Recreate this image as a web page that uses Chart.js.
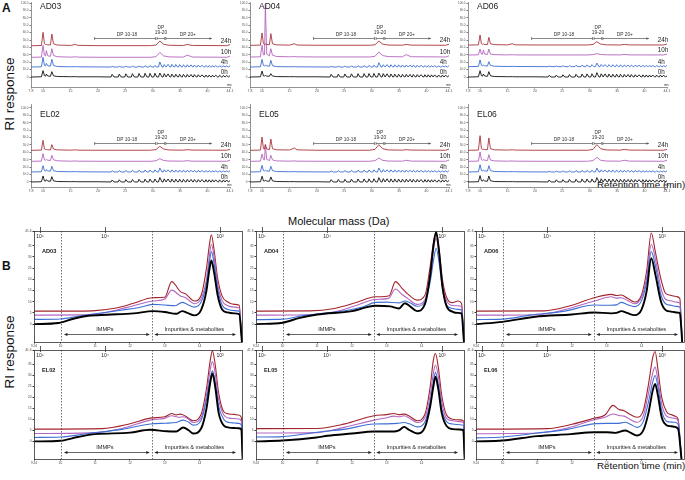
<!DOCTYPE html>
<html>
<head>
<meta charset="utf-8">
<script src="https://cdn.jsdelivr.net/npm/chart.js@4.4.0/dist/chart.umd.min.js"></script>
<style>
  body { margin: 0; width: 685px; height: 480px; position: relative; overflow: hidden; background: #fff;
         font-family: "Liberation Sans", Arial, sans-serif; color: #111; }
  canvas { position: absolute; }
  .lbl { position: absolute; white-space: nowrap; }
  .rot { transform: translate(-50%, -50%) rotate(-90deg); }
</style>
</head>
<body>
<div class="lbl" style="left:2px;top:1px;font-size:12px;font-weight:bold">A</div>
<div class="lbl" style="left:2px;top:259px;font-size:12px;font-weight:bold">B</div>
<div class="lbl rot" style="left:9px;top:94px;font-size:13.5px">RI response</div>
<div class="lbl rot" style="left:9px;top:352px;font-size:13.5px">RI response</div>
<div class="lbl" style="left:597px;top:179px;font-size:9.8px">Retention time (min)</div>
<div class="lbl" style="left:597px;top:460px;font-size:9.8px">Retention time (min)</div>
<div class="lbl" style="left:288px;top:215px;font-size:11px">Molecular mass (Da)</div>
<script>
// ---------- panel A: chromatograms ----------
const hoursA = ["24h", "10h", "4h", "0h"];
const tickLabelsA = [7.8, 10, 15, 20, 25, 30, 35, 40, 44.1];
const yTicksA = [0, 10, 20, 30, 40, 50, 60, 70, 80, 90, 100];
const earlyTimes = [7.8, 9.7, 10.0, 10.25, 10.45, 10.6, 10.85, 11.35, 11.6, 11.9, 12.6, 15.0, 15.9, 16.4, 20.0];
const lateTimes = [29.6, 30.6, 31.3, 32.0, 33.0, 35.6, 36.3, 37.2, 43.5, 44.1];
// DP ladder: peak apex, start of rise, end of tail
const ladderPeaks = [22.6, 23.9, 25.1, 26.3, 27.5, 28.6, 29.5, 30.4, 31.3, 32.1, 32.8, 33.5, 34.2, 34.9,
  35.6, 36.3, 37.0, 37.6, 38.3, 39.0, 39.7, 40.3, 40.9, 41.5, 42.2, 42.9, 43.5];
const ladderRise = [22.4, 23.7, 24.9, 26.1, 27.3, 28.4, 29.3, 30.2, 31.05, 31.9, 32.6, 33.3, 34.0, 34.7,
  35.4, 36.1, 36.8, 37.4, 38.1, 38.8, 39.5, 40.1, 40.7, 41.3, 42.0, 42.7, 43.3];
const ladderFall = [22.95, 24.25, 25.45, 26.65, 27.85, 28.95, 29.85, 30.75, 31.7, 32.45, 33.15, 33.85, 34.55,
  35.25, 35.95, 36.65, 37.3, 37.95, 38.65, 39.35, 40.0, 40.6, 41.2, 41.85, 42.55, 43.2, 43.8];
const dpRanges = [[19.4, 30.5], [30.8, 32.2], [32.4, 40.8]];

const ad03Early = [
  [42.3, 42.6, 60.4, 45, 43.8, 44, 43.6, 43.3, 58, 45, 43.2, 42.7, 44, 42.8, 42.4],
  [26.6, 26.9, 42.8, 29.5, 28.5, 35.6, 28.6, 28, 38.3, 29, 27.4, 26.9, 27.3, 26.9, 26.7],
  [13.5, 13.8, 26.6, 15.8, 15, 18.5, 15.2, 14.6, 23.9, 15.5, 14.2, 13.8, 14, 13.8, 13.6],
  [0, 0.3, 8.6, 1.8, 1.2, 4, 1.3, 1, 7.2, 1.6, 0.7, 0.4, 0.5, 0.3, 0.3]
];
const ad03Late = [
  [42.4, 43.2, 48.6, 44.2, 42.9, 42.6, 44, 42.7, 42.4, 43.8],
  [26.7, 27.5, 33.3, 28.5, 27.2, 26.9, 29.7, 27, 26.7, 28.2]
];
const ad03Ladder = [
  [14.4, 14.5, 14.6, 14.8, 14.9, 15.1, 15.3, 15.6, 20.3, 16.8, 17.1, 17, 16.9, 16.8, 16.6, 16.5, 16.4, 16.2, 16, 15.9, 15.7, 15.6, 15.4, 15.3, 15.2, 15.1, 15],
  [3.6, 4, 4.3, 4.5, 4.8, 5, 5, 5, 5.4, 4.5, 4.2, 4, 3.8, 3.7, 3.6, 3.5, 3.4, 3.3, 3.1, 2.9, 2.7, 2.6, 2.5, 2.4, 2.3, 2.2, 2.1]
];
const ad03Base = [13.5, 0];
const ad03End = [15.2, 1.8];

const ad04Early = [
  [42.8, 43.1, 59.5, 45, 44, 44.5, 44, 43.6, 58.6, 45, 43.5, 43.1, 45, 43.2, 42.9],
  [27, 27.3, 42.8, 30, 30, 98.2, 31, 28.6, 38.3, 29.5, 27.8, 27.3, 27.6, 27.3, 27.1],
  [13.5, 13.8, 23.9, 15.5, 15, 15.8, 15, 14.6, 22.5, 15.3, 14.1, 13.8, 14, 13.8, 13.6],
  [0, 0.3, 8.1, 1.5, 1.2, 2.3, 1.2, 1, 4.5, 1.4, 0.6, 0.4, 0.5, 0.3, 0.3]
];
const ad04Late = [
  [42.9, 43.6, 48.6, 44.5, 43.2, 43, 44.1, 43.1, 42.9, 44.3],
  [27.1, 28, 33.8, 29, 27.6, 27.3, 30.2, 27.4, 27.1, 28.6]
];
const ad04Ladder = [
  [14.3, 14.5, 14.7, 15, 15.2, 15.4, 15.6, 16, 19.4, 16.6, 16.8, 16.6, 16.5, 16.4, 16.3, 16.2, 16.1, 16, 15.9, 15.8, 15.6, 15.5, 15.4, 15.3, 15.2, 15.1, 15],
  [3.6, 3.9, 4.1, 4.3, 4.5, 4.6, 4.7, 4.8, 5.4, 4.6, 4.3, 4.1, 3.9, 3.8, 3.7, 3.6, 3.5, 3.4, 3.3, 3.2, 3.1, 3, 2.9, 2.8, 2.7, 2.6, 2.5]
];
const ad04Base = [13.5, 0];
const ad04End = [15.3, 2];

const ad06Early = [
  [43.2, 43.5, 56.8, 45, 44.2, 44.5, 44, 43.8, 53.6, 45, 43.8, 43.4, 45, 43.5, 43.3],
  [29.7, 30, 37.8, 31, 30.8, 36.5, 31, 30.5, 37.8, 31, 30.2, 29.9, 30.2, 29.9, 29.8],
  [14, 14.3, 23, 15.8, 15.2, 16.2, 15.2, 14.8, 20.7, 15.6, 14.6, 14.2, 14.4, 14.2, 14.1],
  [0, 0.3, 8.6, 1.8, 1.2, 4, 1.3, 1, 7.2, 1.6, 0.7, 0.4, 0.5, 0.3, 0.3]
];
const ad06Late = [
  [43.3, 44, 47.7, 44.5, 43.5, 43.3, 44.1, 43.4, 43.3, 44.6],
  [29.8, 30.3, 31.5, 30.5, 30, 29.9, 30.6, 29.9, 29.8, 31]
];
const ad06Ladder = [
  [14.8, 15, 15.3, 15.5, 15.8, 16, 16.3, 16.7, 18.9, 16.9, 16.8, 16.7, 16.6, 16.5, 16.4, 16.3, 16.2, 16.1, 16, 15.9, 15.8, 15.7, 15.6, 15.5, 15.4, 15.3, 15.2],
  [2.3, 2.6, 3, 3.3, 3.6, 4, 4.2, 4.4, 5.9, 4.4, 4.2, 4, 3.9, 3.8, 3.7, 3.5, 3.4, 3.3, 3.1, 3, 2.9, 2.8, 2.7, 2.7, 2.6, 2.6, 2.5]
];
const ad06Base = [14, 0];
const ad06End = [15.8, 1.5];

const el02Early = [
  [42.8, 43.1, 56.3, 44.5, 43.8, 44, 43.6, 43.3, 50.5, 44.5, 43.4, 43, 43.4, 43, 42.9],
  [27.9, 28.2, 38.3, 30, 29.5, 30.2, 29.5, 29, 36, 30, 28.6, 28.1, 28.4, 28.1, 28],
  [13.5, 13.8, 22, 15.3, 14.8, 16.7, 15, 14.6, 21.2, 15.3, 14.1, 13.8, 14, 13.8, 13.6],
  [0, 0.3, 8.1, 1.5, 1.1, 3.2, 1.2, 1, 7.2, 1.5, 0.6, 0.4, 0.5, 0.3, 0.3]
];
const el02Late = [
  [42.9, 43.8, 48.2, 44.5, 43.2, 43, 43.7, 43.1, 42.9, 44.2],
  [28, 28.6, 31.5, 29, 28.3, 28.1, 28.8, 28.1, 28, 29.3]
];
const el02Ladder = [
  [15.2, 15.4, 15.6, 15.8, 16, 16.1, 16.2, 16.4, 18.9, 16.6, 16.4, 16.3, 16.2, 16.1, 16, 15.9, 15.8, 15.7, 15.6, 15.5, 15.4, 15.3, 15.3, 15.2, 15.1, 15.1, 15],
  [2.7, 3, 3.2, 3.4, 3.6, 3.8, 4, 4, 5.9, 4.2, 4, 3.9, 3.8, 3.7, 3.6, 3.5, 3.4, 3.3, 3.2, 3.2, 3.1, 3, 3, 2.9, 2.8, 2.7, 2.6]
];
const el02Base = [13.5, 0];
const el02End = [15.2, 1.8];

const el05Early = [
  [42.8, 43.1, 60.8, 45, 44.5, 50.5, 44.6, 43.8, 58.1, 45, 43.5, 43.2, 45.9, 43.4, 42.9],
  [27.9, 28.2, 37.8, 30.5, 30, 50.5, 30.5, 29, 36, 29.8, 28.5, 28.1, 28.5, 28.1, 28],
  [13.5, 13.8, 22.5, 15.3, 14.8, 15.8, 14.9, 14.6, 21.2, 15.3, 14.1, 13.8, 14, 13.8, 13.6],
  [0, 0.3, 7.7, 1.5, 1.1, 2.5, 1.2, 1, 6.8, 1.5, 0.6, 0.4, 0.5, 0.3, 0.3]
];
const el05Late = [
  [42.9, 44, 50.5, 45, 43.3, 43, 43.7, 43.1, 42.9, 44.4],
  [28, 28.8, 32.4, 29.2, 28.3, 28.1, 29.3, 28.2, 28, 29.5]
];
const el05Ladder = [
  [15, 15.2, 15.5, 15.7, 15.9, 16.1, 16.2, 16.4, 18.9, 16.7, 16.5, 16.4, 16.3, 16.2, 16.1, 16, 15.9, 15.8, 15.7, 15.6, 15.5, 15.4, 15.3, 15.2, 15.1, 15.1, 15],
  [3.2, 3.4, 3.6, 3.8, 4, 4.1, 4.2, 4.3, 5.9, 4.5, 4.3, 4.1, 4, 3.9, 3.8, 3.7, 3.6, 3.5, 3.4, 3.3, 3.2, 3.1, 3, 2.9, 2.9, 2.8, 2.7]
];
const el05Base = [13.5, 0];
const el05End = [15.5, 2.2];

const el06Early = [
  [42.8, 43.1, 62.6, 45, 44, 44.3, 43.9, 43.6, 59.5, 45, 43.5, 43.1, 43.5, 43.1, 42.9],
  [27.9, 28.2, 40.5, 30, 29.4, 30.2, 29.4, 29, 36.9, 29.6, 28.5, 28.1, 28.4, 28.1, 28],
  [13.5, 13.8, 23.4, 15.3, 14.8, 16.2, 14.9, 14.6, 22, 15.3, 14.1, 13.8, 14, 13.8, 13.6],
  [0, 0.3, 8.6, 1.6, 1.2, 3, 1.3, 1, 8.1, 1.6, 0.6, 0.4, 0.5, 0.3, 0.3]
];
const el06Late = [
  [42.9, 44, 50.5, 45, 43.3, 43, 44.1, 43.1, 42.9, 44.2],
  [28, 28.9, 33.3, 29.4, 28.3, 28.1, 29.3, 28.2, 28, 29.3]
];
const el06Ladder = [
  [14.6, 14.8, 15, 15.2, 15.4, 15.6, 15.8, 16, 18.9, 16.4, 16.2, 16.1, 16, 15.9, 15.8, 15.7, 15.6, 15.5, 15.4, 15.3, 15.2, 15.1, 15, 14.9, 14.9, 14.8, 14.8],
  [2.7, 3, 3.2, 3.5, 3.7, 3.9, 4, 4, 5.9, 4.3, 4.1, 4, 3.9, 3.8, 3.7, 3.6, 3.5, 3.4, 3.3, 3.2, 3.1, 3, 2.9, 2.8, 2.8, 2.7, 2.6]
];
const el06Base = [13.5, 0];
const el06End = [15, 1.8];

// ---------- panel B: molecular mass profiles (24h, 10h, 4h, 0h) ----------
const massXTicks = [9.24, 10, 11, 12, 13, 14];
const massYTicks = [0, 5, 10, 15, 20, 25, 30, 35, 41.6];
const massTicks = [9.42, 11.27, 14.58];
const massLabels = ["10\u2075", "10\u2074", "10\u00b3"];
const fractionCuts = [10.03, 12.62];

const ad03Mass = [
  [[9.24,5.8],[10.5,5.8],[11.0,6.0],[11.6,7.2],[12.1,9.3],[12.65,11.8],[13.0,12.0],[13.2,19.0],[13.45,14.5],[13.6,13.5],[13.85,10.3],[14.05,13],[14.2,25],[14.28,35],[14.34,39.9],[14.42,33],[14.52,20.6],[14.65,12.5],[14.8,10],[15.0,8.8],[15.14,8.4],[15.22,-8]],
  [[9.24,4],[10.8,4.1],[11.4,5.5],[12.1,8.2],[12.65,10.3],[13.0,11.2],[13.2,15.2],[13.45,12.6],[13.6,11.8],[13.85,9.1],[14.05,11.5],[14.2,20],[14.28,30],[14.34,35.7],[14.42,30],[14.52,18],[14.65,10.5],[14.8,8.3],[15.0,7.6],[15.14,7.2],[15.22,-8]],
  [[9.24,2.1],[10.0,2.3],[10.5,3.5],[11.0,4.6],[11.8,6.3],[12.3,7.5],[12.65,8.8],[13.0,8.5],[13.3,8.2],[13.5,9.7],[13.65,8.8],[13.85,7.6],[14.05,10],[14.2,18],[14.28,27],[14.34,32.4],[14.42,27],[14.52,16],[14.65,8.5],[14.8,6.6],[15.0,6.0],[15.14,5.8],[15.22,-8]],
  [[9.24,0],[9.95,0.5],[10.4,2.5],[10.8,3.7],[11.35,4.2],[12.1,4.8],[12.67,5.8],[13.0,5.4],[13.33,4.6],[13.5,5.8],[13.65,5.0],[13.85,3.9],[14.05,6.5],[14.2,15],[14.28,24],[14.34,28.4],[14.42,23],[14.52,13],[14.65,6.5],[14.8,5.2],[15.0,4.8],[15.14,4.5],[15.22,-8]]
];
const ad04Mass = [
  [[9.24,5.8],[10.8,5.9],[11.5,7.0],[12.1,9.5],[12.67,12.2],[13.07,12.7],[13.25,19],[13.44,16],[13.6,13.5],[13.87,10.7],[14.1,13],[14.25,26],[14.35,37],[14.42,40.7],[14.5,34],[14.6,20],[14.72,12],[14.9,9.6],[15.05,10.3],[15.15,9.2],[15.22,-8]],
  [[9.24,4],[11.0,4.3],[11.6,5.8],[12.1,8.2],[12.67,11],[13.05,11.5],[13.25,15.7],[13.44,13.2],[13.6,11.5],[13.87,8.8],[14.1,11],[14.25,22],[14.35,34],[14.42,38.4],[14.5,32],[14.6,18],[14.72,10.5],[14.9,8.3],[15.05,8.2],[15.15,7.8],[15.22,-8]],
  [[9.24,2],[10.0,2.2],[10.6,3.8],[11.0,4.5],[11.8,6.0],[12.3,7.6],[12.67,9.7],[13.0,9.8],[13.35,9.5],[13.52,10.3],[13.68,9.4],[13.87,8.0],[14.1,10],[14.25,19],[14.35,29],[14.42,33.9],[14.5,28],[14.6,16],[14.72,8.5],[14.9,7],[15.05,6.6],[15.15,6.3],[15.22,-8]],
  [[9.24,0],[10.0,0.6],[10.5,2.8],[11.0,4.3],[12.0,5.8],[12.67,8.2],[13.1,7.9],[13.35,7.0],[13.52,9.3],[13.68,7.8],[13.87,5.8],[14.1,9],[14.25,22],[14.35,36],[14.42,41.2],[14.5,33],[14.6,17],[14.72,8],[14.9,5.5],[15.05,5.0],[15.15,4.8],[15.22,-8]]
];
const ad06Mass = [
  [[9.24,5.8],[11.2,5.9],[11.9,8],[12.64,11.8],[13.13,13.3],[13.28,12.8],[13.42,13],[13.6,11.5],[13.8,9.9],[14.0,13],[14.15,24],[14.28,40.7],[14.4,32],[14.56,20],[14.68,14],[14.8,13],[15.0,12.3],[15.1,11.5],[15.17,-8]],
  [[9.24,4],[11.0,4.2],[11.8,6.5],[12.64,10.3],[13.13,12.2],[13.28,11.6],[13.42,11.8],[13.6,10.5],[13.8,9.1],[14.0,12],[14.15,21],[14.28,35.7],[14.4,29],[14.56,16],[14.7,11],[14.85,10.4],[15.0,9.8],[15.1,9.4],[15.17,-8]],
  [[9.24,2],[10.0,2.2],[10.8,4.0],[11.8,5.8],[12.64,8.5],[13.1,8.4],[13.28,8.6],[13.42,9.7],[13.58,8.8],[13.8,7.8],[14.0,10.5],[14.15,19],[14.28,32.4],[14.4,26],[14.56,13],[14.7,9],[14.85,8.4],[15.0,7.9],[15.1,7.6],[15.17,-8]],
  [[9.24,0],[10.0,1.0],[10.94,3.3],[11.99,4.3],[12.64,5.2],[13.13,4.8],[13.28,5.0],[13.42,5.8],[13.58,5.0],[13.8,4.0],[14.0,6.5],[14.15,15],[14.28,29.4],[14.4,22],[14.56,10],[14.7,6.2],[14.85,5.6],[15.0,5.2],[15.1,5.0],[15.17,-8]]
];
const el02Mass = [
  [[9.24,5.6],[11.2,5.8],[12.0,8.0],[12.58,10.6],[13.0,11.2],[13.2,12.7],[13.33,12.1],[13.45,12.4],[13.6,11.5],[13.82,9.4],[14.05,12.5],[14.2,24],[14.3,36],[14.37,41.2],[14.45,35],[14.55,22],[14.7,13.5],[14.85,12.5],[15.0,12.3],[15.12,12],[15.2,11],[15.24,-8]],
  [[9.24,3.6],[11.0,4.0],[11.8,6.0],[12.58,9.7],[13.0,10.5],[13.2,11.7],[13.4,11.0],[13.53,11.2],[13.65,10.5],[13.82,8.6],[14.05,11],[14.2,21],[14.3,32],[14.37,36.3],[14.45,31],[14.55,19],[14.7,12],[14.85,10.6],[15.0,10.4],[15.12,10.2],[15.2,9.4],[15.24,-8]],
  [[9.24,1.8],[10.0,2.0],[10.8,3.6],[11.8,5.6],[12.58,7.9],[13.0,8.3],[13.33,8.6],[13.53,9.7],[13.68,8.8],[13.82,7.4],[14.05,9.8],[14.2,19],[14.3,28],[14.37,32.1],[14.45,27],[14.55,16],[14.7,10],[14.85,8.6],[15.0,8.4],[15.12,8.2],[15.2,7.6],[15.24,-8]],
  [[9.24,0],[10.0,0.3],[10.5,2.0],[11.0,3.3],[12.0,4.0],[12.58,5.3],[13.06,4.6],[13.33,4.5],[13.53,6.3],[13.68,5.2],[13.82,3.6],[14.05,6],[14.2,15],[14.3,26],[14.37,30.9],[14.45,25],[14.55,13],[14.7,7.2],[14.85,6.3],[15.0,6.1],[15.12,6],[15.2,5.5],[15.24,-8]]
];
const el05Mass = [
  [[9.24,5.8],[11.0,5.9],[11.8,8],[12.63,11.7],[13.0,12.2],[13.2,12.7],[13.35,12.2],[13.5,12.4],[13.65,11.5],[13.88,9.4],[14.1,12.5],[14.25,25],[14.34,37],[14.4,40],[14.48,34],[14.58,21],[14.72,12],[14.9,10.1],[15.1,9.8],[15.2,9.5],[15.24,-8]],
  [[9.24,3.8],[11.0,4.0],[11.8,6.5],[12.63,9.7],[13.0,10.8],[13.2,11.5],[13.35,11.2],[13.5,11.7],[13.65,10.6],[13.88,8.6],[14.1,11],[14.25,21],[14.34,31],[14.4,34.8],[14.48,30],[14.58,18],[14.72,10.5],[14.9,9.4],[15.1,9.0],[15.2,8.6],[15.24,-8]],
  [[9.24,2],[10.0,2.2],[11.0,4.2],[11.8,5.6],[12.63,7.9],[13.0,8.0],[13.3,8.2],[13.5,8.6],[13.65,8.0],[13.88,6.6],[14.1,9],[14.25,18],[14.34,27],[14.4,31.4],[14.48,26],[14.58,15],[14.72,9],[14.9,7.9],[15.1,7.6],[15.2,7.3],[15.24,-8]],
  [[9.24,0],[10.0,0.4],[10.98,1.8],[11.3,2.6],[12.0,3.6],[12.63,4.5],[13.2,4.5],[13.35,5.0],[13.5,6.6],[13.65,5.2],[13.88,3.6],[14.1,6.5],[14.25,16],[14.34,25],[14.4,29.4],[14.48,24],[14.58,13],[14.72,7],[14.9,5.6],[15.1,5.4],[15.2,5.2],[15.24,-8]]
];
const el06Mass = [
  [[9.24,5.6],[11.3,5.8],[12.0,7.8],[12.63,10.5],[12.95,12],[13.18,16.4],[13.35,14.5],[13.5,14],[13.65,12.5],[13.87,11],[14.05,14],[14.2,26],[14.32,38],[14.39,40.9],[14.47,33],[14.58,20],[14.72,13.5],[14.85,12.2],[14.96,11.5],[15.05,10.2],[15.15,-8]],
  [[9.24,3.5],[11.0,3.8],[11.9,6.2],[12.63,9.9],[12.95,11],[13.18,12.5],[13.35,11.8],[13.5,11.5],[13.65,10.2],[13.87,8.7],[14.05,11.5],[14.2,22],[14.32,31],[14.39,33.8],[14.47,28],[14.58,17],[14.72,11.5],[14.85,10.8],[14.96,10.5],[15.05,9.4],[15.15,-8]],
  [[9.24,1.6],[10.0,2.0],[11.0,3.8],[11.9,5.6],[12.63,8.0],[13.0,8.2],[13.3,8.2],[13.53,8.7],[13.68,7.8],[13.87,6.4],[14.05,9],[14.2,18],[14.32,27],[14.39,30],[14.47,25],[14.58,14],[14.72,9.2],[14.85,8.8],[14.96,8.7],[15.05,7.8],[15.15,-8]],
  [[9.24,0],[10.0,0.4],[11.0,2.4],[11.96,3.3],[12.63,4.2],[13.0,4.2],[13.25,3.9],[13.53,5.0],[13.68,4.0],[13.87,2.7],[14.05,5],[14.2,13],[14.32,23],[14.39,26.2],[14.47,21],[14.58,11],[14.72,7.4],[14.85,6.9],[14.96,6.6],[15.05,5.8],[15.15,-8]]
];

// ---------- layout and styles ----------
const colorsA = ["#a8343c", "#b463be", "#3c6dd2", "#111111"];
const colorsB = ["#a3242c", "#b366c2", "#3d6fd6", "#000000"];
const FONT = '"Liberation Sans", Arial, sans-serif';

const colsA = [31, 250, 468];
const plotWA = 199;
const rowsA = [
  { top: 2, bottom: 87, min: -13.5, max: 101.4 },
  { top: 104, bottom: 187, min: -6.8, max: 105.4 }
];
const colsB = [34, 256, 476];
const plotWB = 209;
const rowsB = [{ top: 231, bottom: 342 }, { top: 350, bottom: 459 }];

const panelsA = [
  { name: "AD03", col: 0, row: 0, early: ad03Early, late: ad03Late, ladder: ad03Ladder, base: ad03Base, end: ad03End },
  { name: "AD04", col: 1, row: 0, early: ad04Early, late: ad04Late, ladder: ad04Ladder, base: ad04Base, end: ad04End },
  { name: "AD06", col: 2, row: 0, early: ad06Early, late: ad06Late, ladder: ad06Ladder, base: ad06Base, end: ad06End },
  { name: "EL02", col: 0, row: 1, early: el02Early, late: el02Late, ladder: el02Ladder, base: el02Base, end: el02End },
  { name: "EL05", col: 1, row: 1, early: el05Early, late: el05Late, ladder: el05Ladder, base: el05Base, end: el05End },
  { name: "EL06", col: 2, row: 1, early: el06Early, late: el06Late, ladder: el06Ladder, base: el06Base, end: el06End }
];
const panelsB = [
  { name: "AD03", col: 0, row: 0, mass: ad03Mass },
  { name: "AD04", col: 1, row: 0, mass: ad04Mass },
  { name: "AD06", col: 2, row: 0, mass: ad06Mass },
  { name: "EL02", col: 0, row: 1, mass: el02Mass },
  { name: "EL05", col: 1, row: 1, mass: el05Mass },
  { name: "EL06", col: 2, row: 1, mass: el06Mass }
];

function buildA(p, i) {
  const pts = earlyTimes.map((t, k) => ({ x: t, y: p.early[i][k] }));
  if (i < 2) {
    p.late[i].forEach((v, k) => pts.push({ x: lateTimes[k], y: v }));
  } else {
    const base = p.base[i - 2];
    p.ladder[i - 2].forEach((v, k) => {
      pts.push({ x: ladderRise[k], y: base });
      pts.push({ x: ladderPeaks[k], y: v });
      pts.push({ x: ladderFall[k], y: base });
    });
    pts.push({ x: 44.1, y: p.end[i - 2] });
  }
  return pts;
}

function place(left, top, width, height) {
  const c = document.createElement("canvas");
  c.width = width;
  c.height = height;
  c.style.left = left + "px";
  c.style.top = top + "px";
  document.body.appendChild(c);
  return c;
}

function arrowHead(ctx, x, y, dir, len, half) {
  ctx.beginPath();
  ctx.moveTo(x, y);
  ctx.lineTo(x - dir * len, y - half);
  ctx.lineTo(x - dir * len, y + half);
  ctx.closePath();
  ctx.fill();
}

const chromaDecor = {
  id: "chromaDecor",
  afterDraw(chart, args, opts) {
    const { ctx, chartArea: area, scales: { x, y } } = chart;
    ctx.save();
    ctx.fillStyle = "#222";
    ctx.font = "8.5px " + FONT;
    ctx.textBaseline = "top";
    ctx.fillText(opts.name, area.left + 9, area.top + (opts.row ? 6 : 0.5));

    // DP brackets
    const ly = Math.round(y.getPixelForValue(52.3)) + 0.5;
    ctx.strokeStyle = "#555";
    ctx.fillStyle = "#555";
    ctx.lineWidth = 0.7;
    dpRanges.forEach(([a, b], k) => {
      const xa = x.getPixelForValue(a), xb = x.getPixelForValue(b);
      ctx.beginPath();
      ctx.moveTo(xa, ly); ctx.lineTo(xb, ly);
      ctx.moveTo(xa, ly - 1.5); ctx.lineTo(xa, ly + 1.5);
      if (k < 2) { ctx.moveTo(xb, ly - 1.5); ctx.lineTo(xb, ly + 1.5); }
      ctx.stroke();
      if (k === 2) arrowHead(ctx, xb, ly, 1, 2.5, 1.2);
    });
    ctx.fillStyle = "#333";
    ctx.font = "4.8px " + FONT;
    ctx.textAlign = "center";
    ctx.textBaseline = "middle";
    ctx.fillText("DP 10-18", x.getPixelForValue(25.3), ly - 4);
    ctx.fillText("DP", x.getPixelForValue(31.5), ly - 10.5);
    ctx.fillText("19-20", x.getPixelForValue(31.5), ly - 6);
    ctx.fillText("DP 20+", x.getPixelForValue(36.4), ly - 4);

    // hour labels
    ctx.textAlign = "left";
    ctx.font = "6.3px " + FONT;
    ctx.fillStyle = "#222";
    chart.data.datasets.forEach(ds => {
      ctx.fillText(ds.label, x.getPixelForValue(42.4), y.getPixelForValue(ds.data[0].y + 6.5));
    });
    ctx.font = "2.8px " + FONT;
    ctx.fillText("min", area.right - 3, area.bottom - 2);
    ctx.restore();
  }
};

const massDecor = {
  id: "massDecor",
  afterDraw(chart, args, opts) {
    const { ctx, chartArea: area, scales: { x, y } } = chart;
    ctx.save();
    ctx.strokeStyle = "#333";
    ctx.lineWidth = 0.8;
    ctx.strokeRect(area.left + 0.5, area.top + 0.5, area.right - area.left - 1, area.bottom - area.top);

    // molecular mass ticks on the top edge
    ctx.fillStyle = "#222";
    ctx.font = "5px " + FONT;
    ctx.textAlign = "center";
    ctx.textBaseline = "top";
    massTicks.forEach((t, k) => {
      const px = Math.round(x.getPixelForValue(t)) + 0.5;
      ctx.beginPath();
      ctx.moveTo(px, area.top - 4); ctx.lineTo(px, area.top + 2);
      ctx.stroke();
      ctx.fillText(massLabels[k], px - 0.5, area.top + 3);
    });

    // fraction cut lines
    ctx.setLineDash([1.5, 1.5]);
    ctx.lineWidth = 0.7;
    fractionCuts.forEach(t => {
      const px = Math.round(x.getPixelForValue(t)) + 0.5;
      ctx.beginPath();
      ctx.moveTo(px, area.top); ctx.lineTo(px, area.bottom);
      ctx.stroke();
    });
    ctx.setLineDash([]);

    // panel name
    ctx.textAlign = "left";
    ctx.textBaseline = "middle";
    ctx.font = "bold 5.6px " + FONT;
    ctx.fillText(opts.name, area.left + 8, area.top + 20);

    // fraction arrows
    const ay = Math.round(y.getPixelForValue(-4.6)) + 0.5;
    ctx.strokeStyle = "#222";
    ctx.lineWidth = 0.7;
    [[10.1, 12.57], [12.7, 15.05]].forEach(([a, b]) => {
      const xa = x.getPixelForValue(a), xb = x.getPixelForValue(b);
      ctx.beginPath();
      ctx.moveTo(xa + 2, ay); ctx.lineTo(xb - 2, ay);
      ctx.stroke();
      arrowHead(ctx, xa, ay, -1, 3.5, 1.5);
      arrowHead(ctx, xb, ay, 1, 3.5, 1.5);
    });
    ctx.font = "5.6px " + FONT;
    ctx.textAlign = "center";
    ctx.textBaseline = "bottom";
    ctx.fillText("IMMPs", x.getPixelForValue(11.28), ay - 2);
    ctx.fillText("Impurities & metabolites", x.getPixelForValue(13.85), ay - 2);
    ctx.restore();
  }
};

function chromaChart(p) {
  const yW = 14, xH = 9, padTop = 3, padRight = 6;
  const row = rowsA[p.row];
  const plotH = row.bottom - row.top;
  const canvas = place(colsA[p.col] - yW, row.top - padTop, yW + plotWA + padRight, padTop + plotH + xH);
  const datasets = hoursA.map((h, i) => ({
    label: h,
    data: buildA(p, i),
    showLine: true,
    borderColor: colorsA[i],
    borderWidth: 0.9,
    pointRadius: 0,
    tension: 0
  }));
  new Chart(canvas, {
    type: "scatter",
    data: { datasets },
    options: {
      responsive: false,
      animation: false,
      events: [],
      layout: { padding: { top: padTop, right: padRight, left: 0, bottom: 0 } },
      plugins: {
        legend: { display: false },
        tooltip: { enabled: false },
        chromaDecor: { name: p.name, row: p.row }
      },
      scales: {
        x: {
          type: "linear",
          min: 7.8,
          max: 44.1,
          afterBuildTicks: ax => { ax.ticks = tickLabelsA.map(v => ({ value: v })); },
          afterFit: ax => { ax.height = xH; },
          ticks: { font: { size: 3.5, family: FONT }, color: "#555", padding: 0.5, maxRotation: 0, autoSkip: false, callback: v => v },
          grid: { display: true, drawOnChartArea: false, tickLength: 1.5, color: "#777" },
          border: { color: "#777", width: 0.8 }
        },
        y: {
          min: row.min,
          max: row.max,
          afterBuildTicks: ax => { ax.ticks = yTicksA.map(v => ({ value: v })); },
          afterFit: ax => { ax.width = yW; },
          ticks: { font: { size: 3, family: FONT }, color: "#555", padding: 1, autoSkip: false, callback: v => (v === 0 ? "0" : v.toFixed(1)) },
          grid: { display: true, drawOnChartArea: false, tickLength: 1.5, color: "#777" },
          border: { color: "#777", width: 0.8 }
        }
      }
    },
    plugins: [chromaDecor]
  });
}

function massChart(p) {
  const yW = 12, xH = 8, padTop = 5, padRight = 1;
  const row = rowsB[p.row];
  const plotH = row.bottom - row.top;
  const canvas = place(colsB[p.col] - yW, row.top - padTop, yW + plotWB + padRight, padTop + plotH + xH);
  const datasets = p.mass.map((trace, i) => ({
    label: hoursA[i],
    data: trace.map(([t, v]) => ({ x: t, y: v })),
    showLine: true,
    borderColor: colorsB[i],
    borderWidth: i === 3 ? 1.9 : 1.1,
    pointRadius: 0,
    cubicInterpolationMode: "monotone",
    order: 3 - i
  }));
  new Chart(canvas, {
    type: "scatter",
    data: { datasets },
    options: {
      responsive: false,
      animation: false,
      events: [],
      layout: { padding: { top: padTop, right: padRight, left: 0, bottom: 0 } },
      plugins: {
        legend: { display: false },
        tooltip: { enabled: false },
        massDecor: { name: p.name }
      },
      scales: {
        x: {
          type: "linear",
          min: 9.24,
          max: 15.25,
          afterBuildTicks: ax => { ax.ticks = massXTicks.map(v => ({ value: v })); },
          afterFit: ax => { ax.height = xH; },
          ticks: { font: { size: 3.2, family: FONT }, color: "#444", padding: 0.5, maxRotation: 0, autoSkip: false, callback: v => v },
          grid: { display: true, drawOnChartArea: false, tickLength: 1.5, color: "#333" },
          border: { display: false }
        },
        y: {
          min: -8,
          max: 41.6,
          afterBuildTicks: ax => { ax.ticks = massYTicks.map(v => ({ value: v })); },
          afterFit: ax => { ax.width = yW; },
          ticks: { font: { size: 3.2, family: FONT }, color: "#444", padding: 1, autoSkip: false, callback: v => v },
          grid: { display: true, drawOnChartArea: false, tickLength: 1.5, color: "#333" },
          border: { display: false }
        }
      }
    },
    plugins: [massDecor]
  });
}

panelsA.forEach(chromaChart);
panelsB.forEach(massChart);
</script>
</body>
</html>
